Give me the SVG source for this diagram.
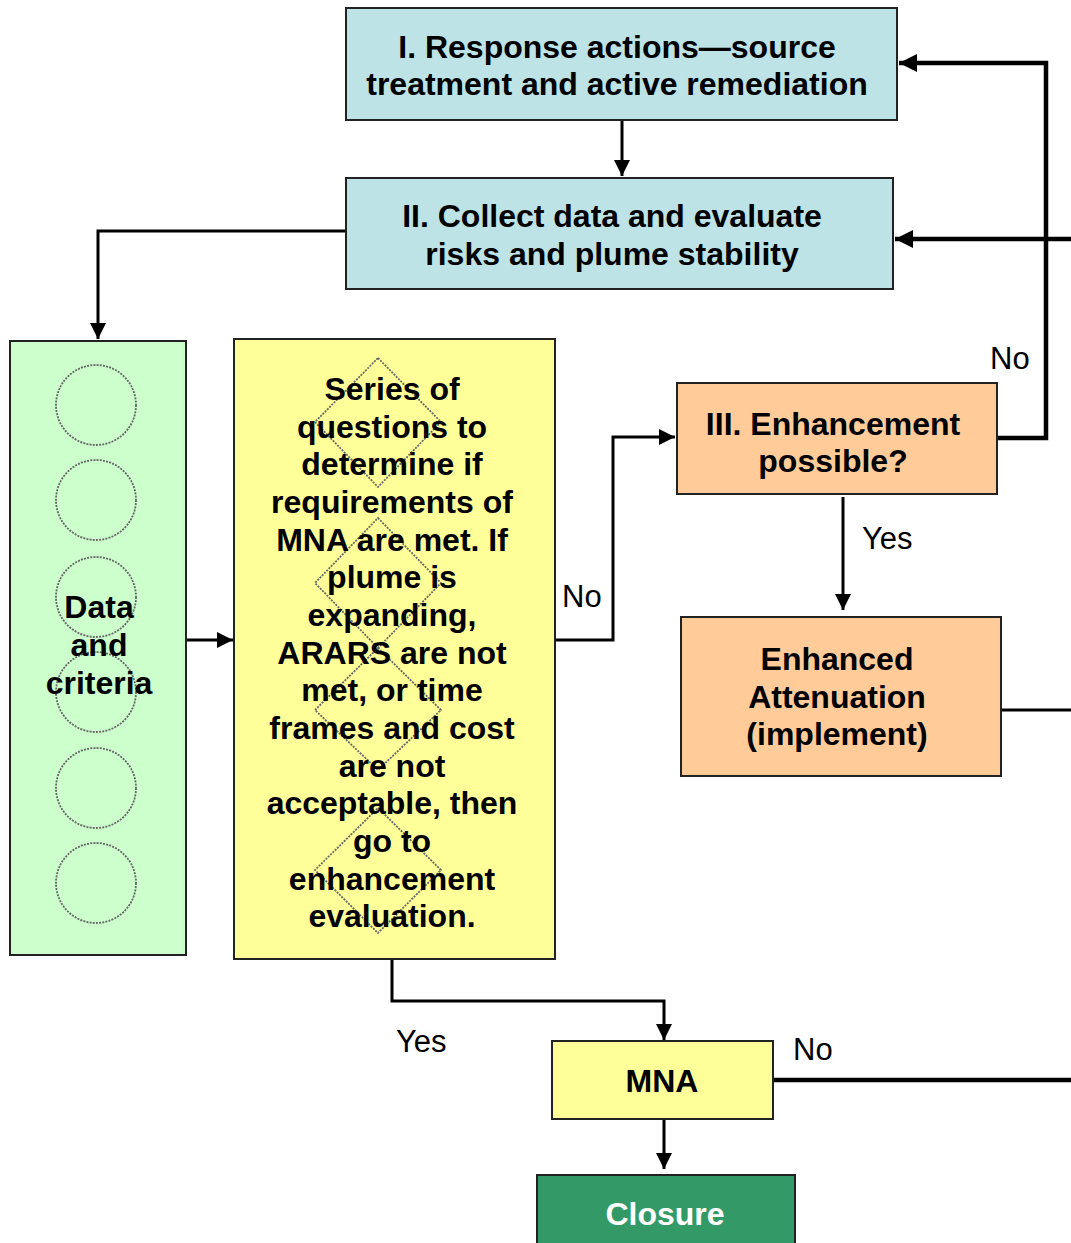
<svg xmlns="http://www.w3.org/2000/svg" width="1071" height="1243" viewBox="0 0 1071 1243">
<defs>
<style>
.box{stroke:#222;stroke-width:2}
.t{font-family:"Liberation Sans",Arial,sans-serif;font-weight:bold;font-size:32px;text-anchor:middle;fill:#000}
.lbl{font-family:"Liberation Sans",Arial,sans-serif;font-size:31px;fill:#000}
.c{stroke:#000;stroke-width:3;fill:none}
.ct{stroke:#000;stroke-width:4.5;fill:none}
.dot{fill:none;stroke:#666;stroke-width:1.8;stroke-dasharray:2 1.2}
</style>
<marker id="ah" viewBox="0 0 10 10" refX="10" refY="5" markerWidth="5.5" markerHeight="5.5" markerUnits="strokeWidth" orient="auto">
<path d="M0,0 L10,5 L0,10 z" fill="#000"/>
</marker>
<marker id="ahb" viewBox="0 0 10 10" refX="10" refY="5" markerWidth="5.5" markerHeight="4" markerUnits="strokeWidth" orient="auto">
<path d="M0,0 L10,5 L0,10 z" fill="#000"/>
</marker>
</defs>
<rect width="1071" height="1243" fill="#fff"/>

<g id="connectors">
<path class="c" d="M622,120 V176" marker-end="url(#ah)"/>
<path class="c" d="M346,231 H98 V339" marker-end="url(#ah)"/>
<path class="c" d="M186,640 H233" marker-end="url(#ah)"/>
<path class="c" d="M555,640 H613 V437 H675" marker-end="url(#ah)"/>
<path class="ct" d="M997,438 H1046 V63 H899" marker-end="url(#ahb)"/>
<path class="ct" d="M1071,239 H895" marker-end="url(#ahb)"/>
<path class="c" d="M843,497 V610" marker-end="url(#ah)"/>
<path class="c" d="M1001,710 H1071"/>
<path class="c" d="M392,959 V1001 H664 V1040" marker-end="url(#ah)"/>
<path class="ct" d="M773,1080 H1071"/>
<path class="c" d="M664,1119 V1169" marker-end="url(#ah)"/>
<text class="lbl" x="562" y="607">No</text>
<text class="lbl" x="990" y="369">No</text>
<text class="lbl" x="862" y="549">Yes</text>
<text class="lbl" x="396" y="1052">Yes</text>
<text class="lbl" x="793" y="1060">No</text>
</g>

<g id="node-response">
<rect class="box" x="346" y="8" width="551" height="112" fill="#bde3e6"/>
<text class="t" x="617" y="58">I. Response actions—source</text>
<text class="t" x="617" y="95">treatment and active remediation</text>
</g>

<g id="node-collect">
<rect class="box" x="346" y="178" width="547" height="111" fill="#bde3e6"/>
<text class="t" x="612" y="227">II. Collect data and evaluate</text>
<text class="t" x="612" y="265">risks and plume stability</text>
</g>

<g id="node-data">
<rect class="box" x="10" y="341" width="176" height="614" fill="#ccffcc"/>
<circle class="dot" cx="96" cy="405" r="40"/>
<circle class="dot" cx="96" cy="500" r="40"/>
<circle class="dot" cx="96" cy="597" r="40"/>
<circle class="dot" cx="96" cy="692" r="40"/>
<circle class="dot" cx="96" cy="788" r="40"/>
<circle class="dot" cx="96" cy="883" r="40"/>
<text class="t" x="99" y="618">Data</text>
<text class="t" x="99" y="656">and</text>
<text class="t" x="99" y="694">criteria</text>
</g>

<g id="node-questions">
<rect class="box" x="234" y="339" width="321" height="620" fill="#ffff99"/>
<path class="dot" d="M378,358 L441,422 L378,487 L315,422 Z"/>
<path class="dot" d="M378,518 L441,583 L378,648 L315,583 Z"/>
<path class="dot" d="M378,648 L441,710 L378,770 L315,710 Z"/>
<path class="dot" d="M378,808 L441,870 L378,933 L315,870 Z"/>
<text class="t" x="392" y="400">Series of</text>
<text class="t" x="392" y="437.6">questions to</text>
<text class="t" x="392" y="475.3">determine if</text>
<text class="t" x="392" y="513">requirements of</text>
<text class="t" x="392" y="550.6">MNA are met. If</text>
<text class="t" x="392" y="588.3">plume is</text>
<text class="t" x="392" y="626">expanding,</text>
<text class="t" x="392" y="663.6">ARARS are not</text>
<text class="t" x="392" y="701.3">met, or time</text>
<text class="t" x="392" y="739">frames and cost</text>
<text class="t" x="392" y="776.6">are not</text>
<text class="t" x="392" y="814.3">acceptable, then</text>
<text class="t" x="392" y="852">go to</text>
<text class="t" x="392" y="889.6">enhancement</text>
<text class="t" x="392" y="927.3">evaluation.</text>
</g>

<g id="node-enhancement">
<rect class="box" x="677" y="383" width="320" height="111" fill="#ffcc99"/>
<text class="t" x="833" y="435">III. Enhancement</text>
<text class="t" x="833" y="472">possible?</text>
</g>

<g id="node-enhanced">
<rect class="box" x="681" y="617" width="320" height="159" fill="#ffcc99"/>
<text class="t" x="837" y="670">Enhanced</text>
<text class="t" x="837" y="708">Attenuation</text>
<text class="t" x="837" y="745">(implement)</text>
</g>

<g id="node-mna">
<rect class="box" x="552" y="1041" width="221" height="78" fill="#ffff99"/>
<text class="t" x="662" y="1092">MNA</text>
</g>

<g id="node-closure">
<rect class="box" x="537" y="1175" width="258" height="80" fill="#339966"/>
<text class="t" x="665" y="1225" style="fill:#fff">Closure</text>
</g>
</svg>
